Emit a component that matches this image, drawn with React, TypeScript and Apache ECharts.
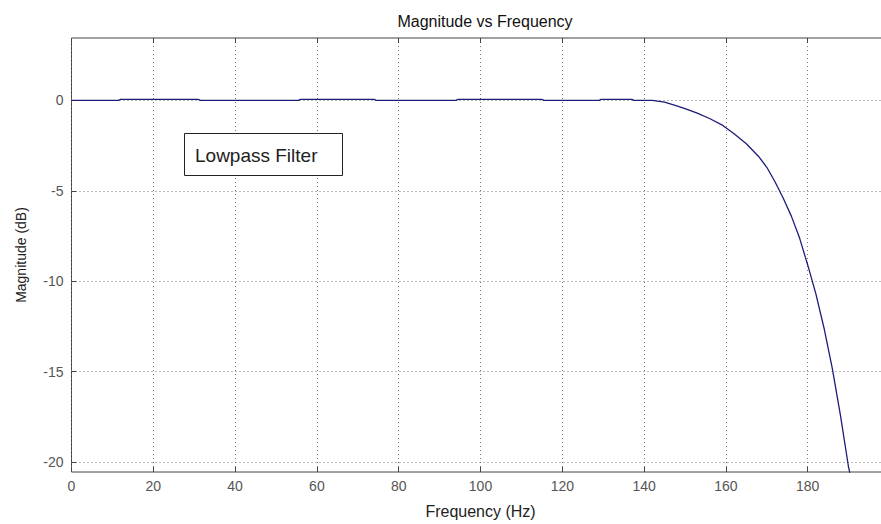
import React, { useEffect, useRef } from "react";
import * as echarts from "echarts";

const freqHz: number[] = [
  0, 11.5, 12, 31, 31.5, 55.5, 56, 74, 74.5, 94, 94.5, 115, 115.5, 129, 129.5, 137, 137.5,
  142, 145, 148, 150, 153, 156, 159, 162, 165, 168, 170, 172, 174, 176, 178, 180, 182, 184,
  186, 188, 190, 190.3,
];
const magnitudeDb: number[] = [
  0, 0, 0.06, 0.06, 0, 0, 0.06, 0.06, 0, 0, 0.06, 0.06, 0, 0, 0.06, 0.06, 0,
  0, -0.1, -0.3, -0.45, -0.7, -1.0, -1.35, -1.85, -2.4, -3.1, -3.7, -4.5, -5.4, -6.4, -7.6,
  -9.1, -10.7, -12.6, -14.8, -17.4, -20.3, -20.6,
];
const yTicks: number[] = [-20, -15, -10, -5, 0];
const titleText = "Magnitude vs Frequency";
const xLabel = "Frequency (Hz)";
const yLabel = "Magnitude (dB)";
const noteText = "Lowpass Filter";

const FONT = "'Liberation Sans', Arial, sans-serif";

export default function App() {
  const ref = useRef<HTMLDivElement>(null);
  useEffect(() => {
    if (!ref.current) return;
    const chart = echarts.init(ref.current, null, { renderer: "svg" });
    const data = freqHz.map((f, i) => [f, magnitudeDb[i]]);
    const dotted = { color: "#777", width: 1, type: [1, 3] as number[] };
    chart.setOption({
      animation: false,
      backgroundColor: "#fff",
      title: {
        text: titleText,
        left: 480,
        top: 8,
        textAlign: "center",
        textStyle: { fontFamily: FONT, fontSize: 16, fontWeight: "normal", color: "#111" },
      },
      grid: {
        left: 71.5,
        right: 10.5,
        top: 38,
        bottom: 524 - 477,
        show: true,
        borderColor: "#444",
        borderWidth: 1,
        backgroundColor: "#fff",
      },
      xAxis: [
        {
          type: "value",
          min: 0,
          max: 200,
          interval: 20,
          name: xLabel,
          nameLocation: "middle",
          nameGap: 31,
          nameTextStyle: { fontFamily: FONT, fontSize: 16, color: "#222" },
          axisLine: { show: false, onZero: false },
          axisTick: { show: true, inside: true, length: 5, lineStyle: { color: "#444" } },
          axisLabel: {
            fontFamily: FONT,
            fontSize: 14,
            color: "#555",
            margin: 7,
            showMaxLabel: false,
          },
          splitLine: { show: true, lineStyle: dotted },
        },
        {
          type: "value",
          position: "top",
          min: 0,
          max: 200,
          interval: 20,
          axisLine: { show: false, onZero: false },
          axisTick: { show: true, inside: true, length: 5, lineStyle: { color: "#444" } },
          axisLabel: { show: false },
          splitLine: { show: false },
        },
      ],
      yAxis: {
        type: "value",
        min: -20.55,
        max: 3.45,
        name: yLabel,
        nameLocation: "middle",
        nameGap: 44,
        nameTextStyle: { fontFamily: FONT, fontSize: 14, color: "#222" },
        axisLine: { show: false, onZero: false },
        axisTick: {
          show: true,
          inside: true,
          length: 5,
          customValues: yTicks,
          lineStyle: { color: "#444" },
        },
        axisLabel: {
          fontFamily: FONT,
          fontSize: 14,
          color: "#555",
          margin: 8,
          customValues: yTicks,
        },
        splitLine: { show: true, lineStyle: dotted },
      },
      series: [
        {
          type: "line",
          data,
          xAxisIndex: 0,
          showSymbol: false,
          symbol: "none",
          lineStyle: { color: "#1c1c7a", width: 1.3 },
          z: 5,
        },
      ],
      graphic: [
        {
          type: "rect",
          shape: { x: 184.5, y: 133.5, width: 158, height: 42 },
          style: { fill: "#fff", stroke: "#222", lineWidth: 1 },
          z: 100,
        },
        {
          type: "text",
          x: 195,
          y: 155,
          style: {
            text: noteText,
            fontFamily: FONT,
            fontSize: 19,
            fill: "#222",
            verticalAlign: "middle",
          },
          z: 101,
        },
      ],
    });
    return () => chart.dispose();
  }, []);
  return (
    <div
      ref={ref}
      style={{ position: "fixed", left: 0, top: 0, width: 900, height: 524 }}
    />
  );
}
